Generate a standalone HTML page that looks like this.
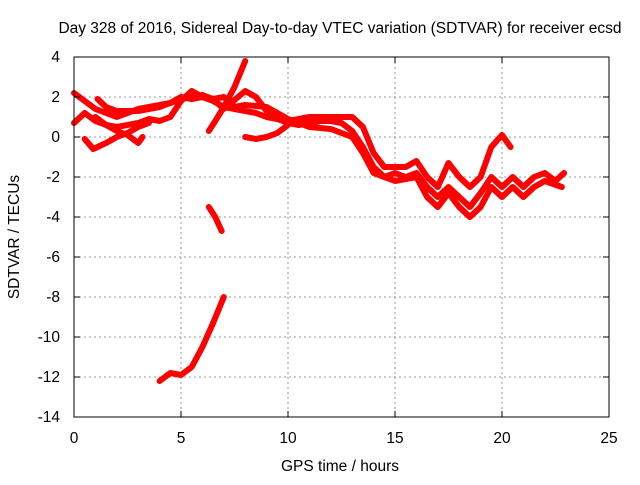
<!DOCTYPE html>
<html><head><meta charset="utf-8"><style>
body{margin:0;background:#fff;}
svg text{font-family:"Liberation Sans",sans-serif;font-size:15.5px;fill:#000;}
</style></head><body>
<svg width="640" height="480">
<text x="340" y="33" text-anchor="middle">Day 328 of 2016, Sidereal Day-to-day VTEC variation (SDTVAR) for receiver ecsd</text>
<g id="grid"></g>
<g id="series"></g>
<rect x="74" y="57" width="535" height="360" fill="none" stroke="#000" stroke-width="1"/>
<g id="ticks"></g>
<text x="340" y="471" text-anchor="middle">GPS time / hours</text>
<text transform="translate(19,237) rotate(-90)" text-anchor="middle">SDTVAR / TECUs</text>
</svg>
<script>
const xTicks=[0,5,10,15,20,25];
const yTicks=[4,2,0,-2,-4,-6,-8,-10,-12,-14];
const track1=[[0,2.2],[0.5,1.8],[1,1.4],[1.5,1.2],[2,1.0],[2.5,1.2],[3,1.4],[3.5,1.5],[4,1.6],[4.5,1.7],[5,2.0],[5.5,1.9],[6,2.0],[6.5,1.8],[7,1.5],[7.5,1.4],[8,1.3],[8.5,1.2],[9,1.0],[9.5,0.9],[10,0.7],[10.5,0.6],[11,0.7],[11.5,0.8],[12,0.8],[12.5,0.7],[13,0.3],[13.5,-0.5],[14,-1.5],[14.5,-2.0],[15,-1.8],[15.5,-2.0],[16,-1.8],[16.5,-2.5],[17,-3.0],[17.5,-2.5],[18,-3.0],[18.5,-3.5],[19,-2.8],[19.5,-2.0],[20,-2.5],[20.5,-2.0],[21,-2.5],[21.5,-2.0],[22,-1.8],[22.5,-2.2],[22.9,-1.8]];
const track2=[[0,0.7],[0.5,1.2],[1,0.8],[1.5,0.6],[2,0.5],[3,0.7],[3.5,0.9],[4,0.8],[4.5,1.0],[5,1.8],[5.5,2.3],[6,2.0],[6.5,1.9],[7,2.0],[7.5,1.5],[8,1.6],[9,1.5],[10,0.9],[11,0.5],[12,0.4],[13,0.0],[13.5,-0.8],[14,-1.8],[15,-2.2],[16,-2.0],[16.5,-3.0],[17,-3.5],[17.5,-2.8],[18,-3.5],[18.5,-4.0],[19,-3.5],[19.5,-2.5],[20,-3.0],[20.5,-2.5],[21,-3.0],[21.5,-2.5],[22,-2.2],[22.8,-2.5]];
const track3=[[1.1,1.9],[1.5,1.5],[2,1.3],[3,1.3],[4,1.5],[5,1.9],[6,2.1],[6.5,1.9],[7,1.4],[8,2.3],[8.5,2.0],[9,1.3],[10,0.8],[11,1.0],[12,1.0],[13,1.0],[13.5,0.5],[14,-0.8],[14.5,-1.5],[15.5,-1.5],[16,-1.2],[16.5,-2.0],[17,-2.5],[17.5,-1.3],[18,-2.0],[18.5,-2.5],[19,-2.0],[19.5,-0.5],[20,0.1],[20.4,-0.5]];
const track4=[[1.0,1.0],[1.5,0.6],[2,0.3],[2.5,0.1],[3,-0.3],[3.2,0.0]];
const track5=[[0.5,-0.1],[0.9,-0.6],[1.5,-0.3],[2,0.0],[2.5,0.2],[3,0.5],[3.5,0.7]];
const track6=[[6.3,0.3],[6.6,0.8],[7,1.5],[7.5,2.5],[8,3.8]];
const track7=[[8,0.0],[8.5,-0.1],[9,0.0],[9.5,0.2],[10,0.6]];
const track8=[[6.3,-3.5],[6.6,-4.0],[6.9,-4.7]];
const track9=[[4,-12.2],[4.5,-11.8],[5,-11.9],[5.5,-11.5],[6,-10.5],[6.5,-9.3],[7,-8.0]];
const tracks=[track1,track2,track3,track4,track5,track6,track7,track8,track9];
const X=v=>74+v*535/25, Y=v=>57+(4-v)*20;
const NS="http://www.w3.org/2000/svg";
const grid=document.getElementById('grid'),ticks=document.getElementById('ticks'),ser=document.getElementById('series');
function mk(tag,a,p){const e=document.createElementNS(NS,tag);for(const k in a)e.setAttribute(k,a[k]);p.appendChild(e);return e;}
xTicks.forEach(t=>{
 const g=mk('line',{x1:X(t),x2:X(t),y1:57,y2:417,stroke:'#999','stroke-dasharray':'2,3'},grid);
 
 
 mk('line',{x1:X(t),x2:X(t),y1:417,y2:411,stroke:'#000'},ticks);
 mk('line',{x1:X(t),x2:X(t),y1:57,y2:63,stroke:'#000'},ticks);
 const l=mk('text',{x:X(t),y:443,'text-anchor':'middle'},ticks);l.textContent=t;
 
 
});
yTicks.forEach(t=>{
 const g=mk('line',{x1:74,x2:609,y1:Y(t),y2:Y(t),stroke:'#999','stroke-dasharray':'2,3'},grid);
 
 
 mk('line',{x1:74,x2:80,y1:Y(t),y2:Y(t),stroke:'#000'},ticks);
 mk('line',{x1:603,x2:609,y1:Y(t),y2:Y(t),stroke:'#000'},ticks);
 const l=mk('text',{x:60,y:Y(t)+5,'text-anchor':'end'},ticks);l.textContent=t;
 
 
});
tracks.forEach(tr=>{
 const p=mk('polyline',{points:tr.map(d=>X(d[0])+','+Y(d[1])).join(' '),fill:'none',stroke:'#f00','stroke-width':6,'stroke-linejoin':'round','stroke-linecap':'round'},ser);
 
 
});
</script>
</body></html>
